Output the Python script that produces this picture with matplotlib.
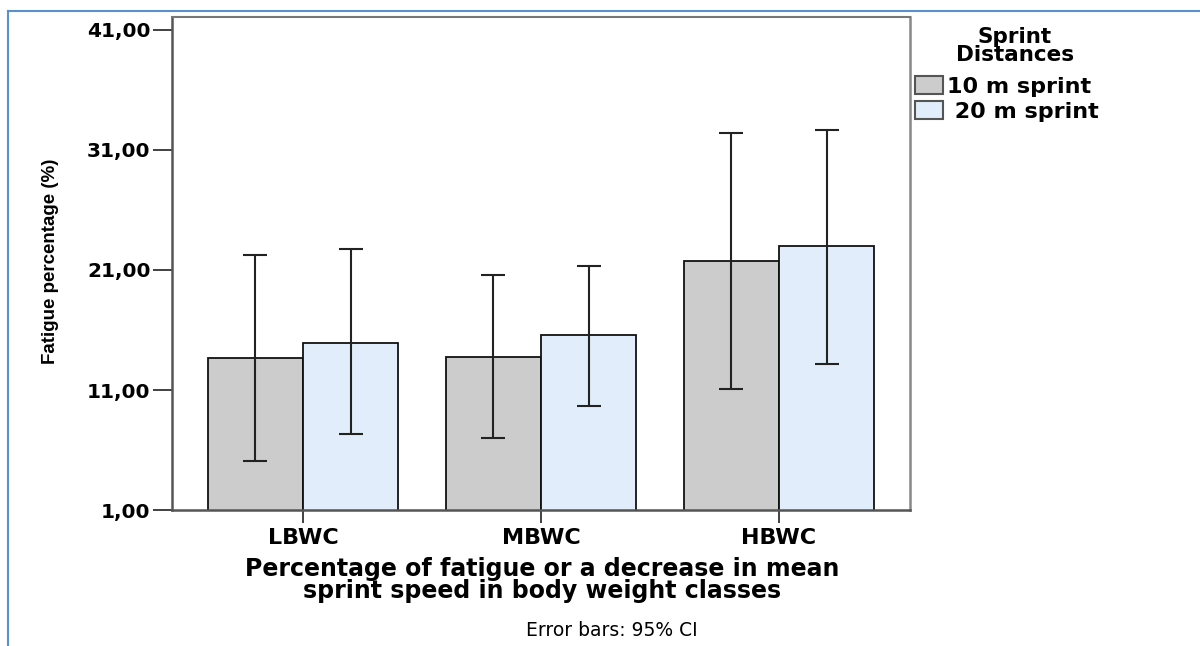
# -*- coding: utf-8 -*-
"""Fatigue percentage by body weight class, 10 m vs 20 m sprint (SPSS-style bar chart)."""

import matplotlib
matplotlib.use("Agg")
import matplotlib.pyplot as plt
import numpy as np
from matplotlib.lines import Line2D

# data
classes = ["LBWC", "MBWC", "HBWC"]
series = ["10 m sprint", " 20 m sprint"]
mean_10 = [13.7, 13.75, 21.75]
ci_lo_10 = [5.1, 7.0, 11.1]
ci_hi_10 = [22.25, 20.55, 32.45]
mean_20 = [14.95, 15.55, 23.0]
ci_lo_20 = [7.3, 9.7, 13.15]
ci_hi_20 = [22.75, 21.35, 32.65]
yticks = [1, 11, 21, 31, 41]

GRAY = "#cccccc"
BLUE = "#e1edfa"
AX_COL = "#555555"
BOLD = dict(family="DejaVu Sans", weight="bold")

fig = plt.figure(figsize=(12, 6.46), dpi=100)
ax = fig.add_axes([0.1433, 0.2105, 0.615, 0.7632])

x = np.arange(len(classes))
w = 0.4
err_kw = dict(ecolor="#222222", elinewidth=1.5, capsize=8.3, capthick=1.5)

yerr10 = [np.subtract(mean_10, ci_lo_10), np.subtract(ci_hi_10, mean_10)]
yerr20 = [np.subtract(mean_20, ci_lo_20), np.subtract(ci_hi_20, mean_20)]
b1 = ax.bar(x - w / 2, mean_10, w, bottom=0, color=GRAY, edgecolor="#111111",
            linewidth=1.3, yerr=yerr10, error_kw=err_kw, label=series[0])
b2 = ax.bar(x + w / 2, mean_20, w, bottom=0, color=BLUE, edgecolor="#111111",
            linewidth=1.3, yerr=yerr20, error_kw=err_kw, label=series[1])

ax.set_xlim(-0.55, 2.55)
ax.set_ylim(1, 42.08)
ax.set_yticks(yticks)
ax.set_yticklabels([f"{v:.2f}".replace(".", ",") for v in yticks],
                   fontsize=14.5, **BOLD)
ax.set_xticks(x)
ax.set_xticklabels(classes, fontsize=16, **BOLD)

for sp in ax.spines.values():
    sp.set_color(AX_COL)
    sp.set_linewidth(1.8)
ax.spines["top"].set_color("#777777")
ax.spines["top"].set_linewidth(1.5)
ax.spines["right"].set_color("#888888")
ax.tick_params(axis="y", length=13.5, width=1.3, color="#333333", pad=2)
ax.tick_params(axis="x", length=9, width=1.3, color="#333333", pad=4)

ax.set_ylabel("Fatigue percentage (%)", fontfamily="Liberation Sans",
              fontweight="bold", fontsize=13.5)
ax.yaxis.set_label_coords(-0.153, 0.505)

fig.text(542 / 1200, 1 - 580 / 646,
         "Percentage of fatigue or a decrease in mean\nsprint speed in body weight classes",
         ha="center", va="center", fontsize=17, linespacing=0.85, **BOLD)
fig.text(612 / 1200, 1 - 631 / 646, "Error bars: 95% CI", ha="center",
         va="center", fontfamily="DejaVu Sans", fontsize=13.5)

# legend: title as separate text so it can sit centred above the entries
fig.text(1015 / 1200, 1 - 46 / 646, "Sprint\nDistances", ha="center",
         va="center", multialignment="center", fontsize=15.5,
         linespacing=0.85, **BOLD)
leg = fig.legend(handles=[b1, b2], labels=series, loc="upper left",
                 bbox_to_anchor=(915 / 1200, 1 - 76 / 646), frameon=False,
                 prop=dict(size=16, **BOLD),
                 handlelength=1.25, handleheight=0.85, handletextpad=0.2,
                 labelspacing=0.22, borderpad=0, borderaxespad=0)
for p in leg.get_patches():
    p.set_edgecolor("#555555")
    p.set_linewidth(1.5)

# blue frame around the chart area
frame_col = "#5b8fd0"
fig.add_artist(Line2D([8 / 1200, 1.0], [1 - 11 / 646, 1 - 11 / 646],
                      transform=fig.transFigure, color=frame_col, lw=1.5))
fig.add_artist(Line2D([8 / 1200, 8 / 1200], [0.0, 1 - 11 / 646],
                      transform=fig.transFigure, color=frame_col, lw=1.5))

fig.savefig("out.png", dpi=100)
